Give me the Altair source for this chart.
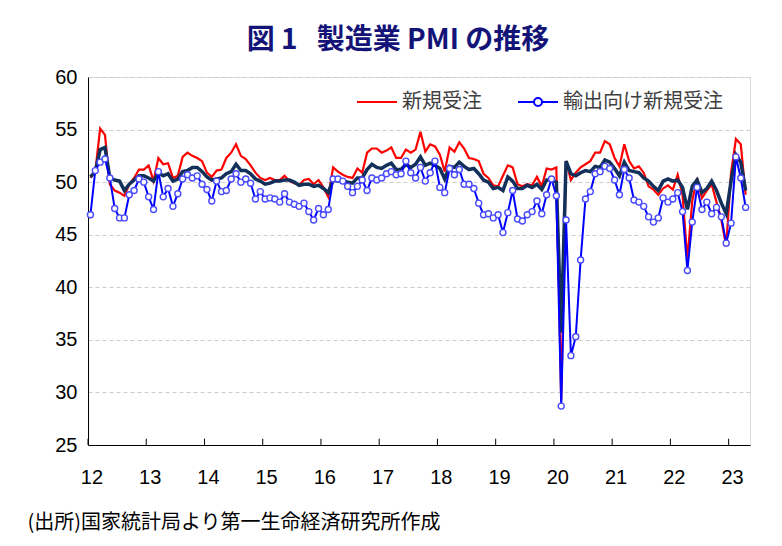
import json
import altair as alt
import pandas as pd

# Monthly series, Jan 2012 - Apr 2023
year_labels = ["12", "13", "14", "15", "16", "17", "18", "19", "20", "21", "22", "23"]

pmi = [
    50.5, 51.0, 53.1, 53.3, 50.4, 50.2, 50.1, 49.2, 49.8, 50.2, 50.6, 50.6,
    50.4, 50.1, 50.9, 50.6, 50.8, 50.1, 50.3, 51.0, 51.1, 51.4, 51.4, 51.0,
    50.5, 50.2, 50.3, 50.4, 50.8, 51.0, 51.7, 51.1, 51.1, 50.8, 50.3, 50.1,
    49.8, 49.9, 50.1, 50.1, 50.2, 50.2, 50.0, 49.7, 49.8, 49.8, 49.6, 49.7,
    49.4, 49.0, 50.2, 50.1, 50.1, 50.0, 49.9, 50.4, 50.4, 51.2, 51.7, 51.4,
    51.3, 51.6, 51.8, 51.2, 51.2, 51.7, 51.4, 51.7, 52.4, 51.6, 51.8, 51.6,
    51.3, 50.3, 51.5, 51.4, 51.9, 51.5, 51.2, 51.3, 50.8, 50.2, 50.0, 49.4,
    49.5, 49.2, 50.5, 50.1, 49.4, 49.4, 49.7, 49.5, 49.8, 49.3, 50.2, 50.2,
    50.0, 35.7, 52.0, 50.8, 50.6, 50.9, 51.1, 51.0, 51.5, 51.4, 52.1, 51.9,
    51.3, 50.6, 51.9, 51.1, 51.0, 50.9, 50.4, 50.1, 49.6, 49.2, 50.1, 50.3,
    50.1, 50.2, 49.5, 47.4, 49.6, 50.2, 49.0, 49.4, 50.1, 49.2, 48.0, 47.0,
    50.1, 52.6, 51.9, 49.2,
]

new_orders = [
    50.4, 51.0, 55.1, 54.5, 49.8, 49.2, 49.0, 48.7, 49.8, 50.4, 51.2, 51.2,
    51.6, 50.1, 52.3, 51.7, 51.8, 50.4, 50.6, 52.4, 52.8, 52.5, 52.3, 52.0,
    50.9, 50.5, 51.1, 51.2, 52.3, 52.8, 53.6, 52.5, 52.2, 51.6, 50.9, 50.4,
    50.2, 50.4, 50.2, 50.2, 50.6, 50.1, 49.9, 49.7, 50.2, 50.3, 49.8, 50.2,
    49.5, 48.6, 51.4, 51.0, 50.7, 50.5, 50.4, 51.3, 50.9, 52.8, 53.2, 53.2,
    52.8, 53.0, 53.3, 52.3, 52.3, 53.1, 52.8, 53.1, 54.8, 52.9, 53.6, 53.4,
    52.6, 51.0, 53.3, 52.9, 53.8, 53.2, 52.3, 52.2, 52.0, 50.8, 50.4, 49.7,
    49.6, 50.6, 51.6, 51.4, 49.8, 49.6, 49.8, 49.7, 50.5, 49.6, 51.3, 51.2,
    51.4, 29.3, 52.0, 50.2, 50.9, 51.4, 51.7, 52.0, 52.8, 52.8, 53.9, 53.6,
    52.3, 51.5, 53.6, 52.0, 51.3, 51.5, 50.9, 49.6, 49.3, 48.8, 49.4, 49.7,
    49.3, 50.7, 48.8, 42.6, 48.2, 50.4, 48.5, 49.2, 49.8, 48.1, 46.4, 43.9,
    50.9, 54.1, 53.6, 48.8,
]

export_orders = [
    46.9, 51.1, 51.9, 52.2, 50.4, 47.5, 46.6, 46.6, 48.8, 49.2, 50.3, 50.0,
    48.6, 47.4, 51.0, 48.6, 49.4, 47.7, 48.9, 50.3, 50.7, 50.4, 50.6, 49.8,
    49.3, 48.2, 50.1, 49.1, 49.2, 50.3, 50.8, 50.0, 50.3, 49.9, 48.4, 49.1,
    48.4, 48.5, 48.4, 48.1, 48.9, 48.1, 47.9, 47.7, 48.0, 47.2, 46.4, 47.5,
    46.9, 47.4, 50.3, 50.3, 50.1, 49.6, 49.0, 49.6, 50.2, 49.2, 50.4, 50.2,
    50.4, 50.8, 51.0, 50.7, 50.8, 52.0, 50.9, 50.4, 51.4, 50.1, 50.9, 52.0,
    49.5, 49.0, 51.3, 50.7, 51.2, 49.8, 49.8, 49.4, 48.0, 46.9, 47.0, 46.6,
    46.9, 45.2, 47.1, 49.2, 46.5, 46.3, 46.9, 47.2, 48.2, 47.0, 48.8, 50.3,
    48.7, 28.7, 46.4, 33.5, 35.3, 42.6, 48.4, 49.1, 50.8, 51.0, 51.5, 51.3,
    50.2, 48.8, 51.2, 50.4, 48.3, 48.1, 47.7, 46.7, 46.2, 46.6, 48.5, 48.1,
    48.4, 49.0, 47.2, 41.6, 46.2, 49.5, 47.4, 48.1, 47.0, 47.6, 46.7, 44.2,
    46.1, 52.4, 50.4, 47.6,
]

y_ticks = [25, 30, 35, 40, 45, 50, 55, 60]

NAME_NEW = "新規受注"
NAME_EXP = "輸出向け新規受注"
TITLE = "図 1\u00a0\u00a0 製造業 PMI の推移"
SOURCE = "(出所)国家統計局より第一生命経済研究所作成"

JP = "Noto Sans CJK JP"
NUM = "Liberation Sans"

n = len(pmi)
df = pd.DataFrame({
    "t": [i + 0.5 for i in range(n)],
    "pmi": pmi,
    "new": new_orders,
    "exp": export_orders,
    "s_new": NAME_NEW,
    "s_exp": NAME_EXP,
})

year_starts = [12 * k for k in range(len(year_labels))]
ticks_df = pd.DataFrame({"t": year_starts, "y0": 25.0, "y1": 25.6})

# year labels sit just right of each year boundary
label_pos = [s + 0.7 for s in year_starts]
label_expr = json.dumps(year_labels) + "[floor(datum.value / 12)]"

x_scale = alt.Scale(domain=[0, 136.4], nice=False, zero=False)
y_scale = alt.Scale(domain=[25, 60], nice=False, zero=False)

x_axis = alt.Axis(
    values=label_pos, labelExpr=label_expr, ticks=False, grid=False,
    domainColor="black", domainWidth=1, labelFont=NUM, labelFontSize=20,
    labelColor="black", labelPadding=22, labelFlush=False,
    labelOverlap=False, title=SOURCE, titleFont=JP, titleFontSize=20,
    titleFontWeight="normal", titleColor="black", titleAlign="left",
    titleBaseline="middle", titleX=-61, titleY=77,
)
y_axis = alt.Axis(
    values=y_ticks, ticks=False, grid=True, gridDash=[4, 3],
    gridColor="#cccccc", gridWidth=1, domainColor="black", domainWidth=1,
    labelFont=NUM, labelFontSize=20, labelColor="black", labelPadding=11,
    labelFlush=False, labelOverlap=False, title=None,
)

X = alt.X("t:Q", scale=x_scale, axis=x_axis)


def Y(field):
    return alt.Y(f"{field}:Q", scale=y_scale, axis=y_axis)


legend_common = dict(
    orient="none", title=None, padding=0, symbolSize=1600,
    symbolStrokeWidth=2, labelFont=JP, labelFontSize=20,
    labelColor="#404040", labelOffset=4,
)

red = alt.Chart(df).mark_line(strokeWidth=2.2).encode(
    x=X, y=Y("new"),
    color=alt.Color(
        "s_new:N",
        scale=alt.Scale(domain=[NAME_NEW], range=["#ff0000"]),
        legend=alt.Legend(legendX=268, legendY=4, symbolType="M-1,0H1",
                          **legend_common),
    ),
)

navy = alt.Chart(df).mark_line(color="#12305a", strokeWidth=3.5).encode(
    x=X, y=Y("pmi"),
)

blue = alt.Chart(df).mark_line(strokeWidth=2).encode(
    x=X, y=Y("exp"),
    color=alt.Color(
        "s_exp:N",
        scale=alt.Scale(domain=[NAME_EXP], range=["#0000ff"]),
        legend=alt.Legend(
            legendX=429, legendY=4,
            symbolType="M-1,0H-0.2A0.2,0.2,0,0,1,0.2,0H1M0.2,0A0.2,0.2,0,0,1,-0.2,0",
            symbolFillColor="white", **legend_common),
    ),
)

dots = alt.Chart(df).mark_circle(
    size=36, fill="white", stroke="#4a4aff", strokeWidth=1.4, opacity=1,
).encode(x=X, y=Y("exp"))

inner_ticks = alt.Chart(ticks_df).mark_rule(color="black", strokeWidth=1).encode(
    x=X, y=Y("y0"), y2="y1:Q",
)

chart = (
    alt.layer(red, navy, blue, dots, inner_ticks)
    .resolve_scale(color="independent")
    .properties(
        width=662, height=368,
        autosize=alt.AutoSizeParams(type="none"),
        padding={"left": 88, "top": 77, "right": 32, "bottom": 101},
        title=alt.TitleParams(
            TITLE, font=JP, fontSize=28, fontWeight="bold", color="#141478",
            anchor="middle", dx=-21, offset=12,
        ),
    )
    .configure_view(stroke=None)
    .configure(background="white")
)

chart.save("out.html", embed_options={"renderer": "svg", "actions": False})
